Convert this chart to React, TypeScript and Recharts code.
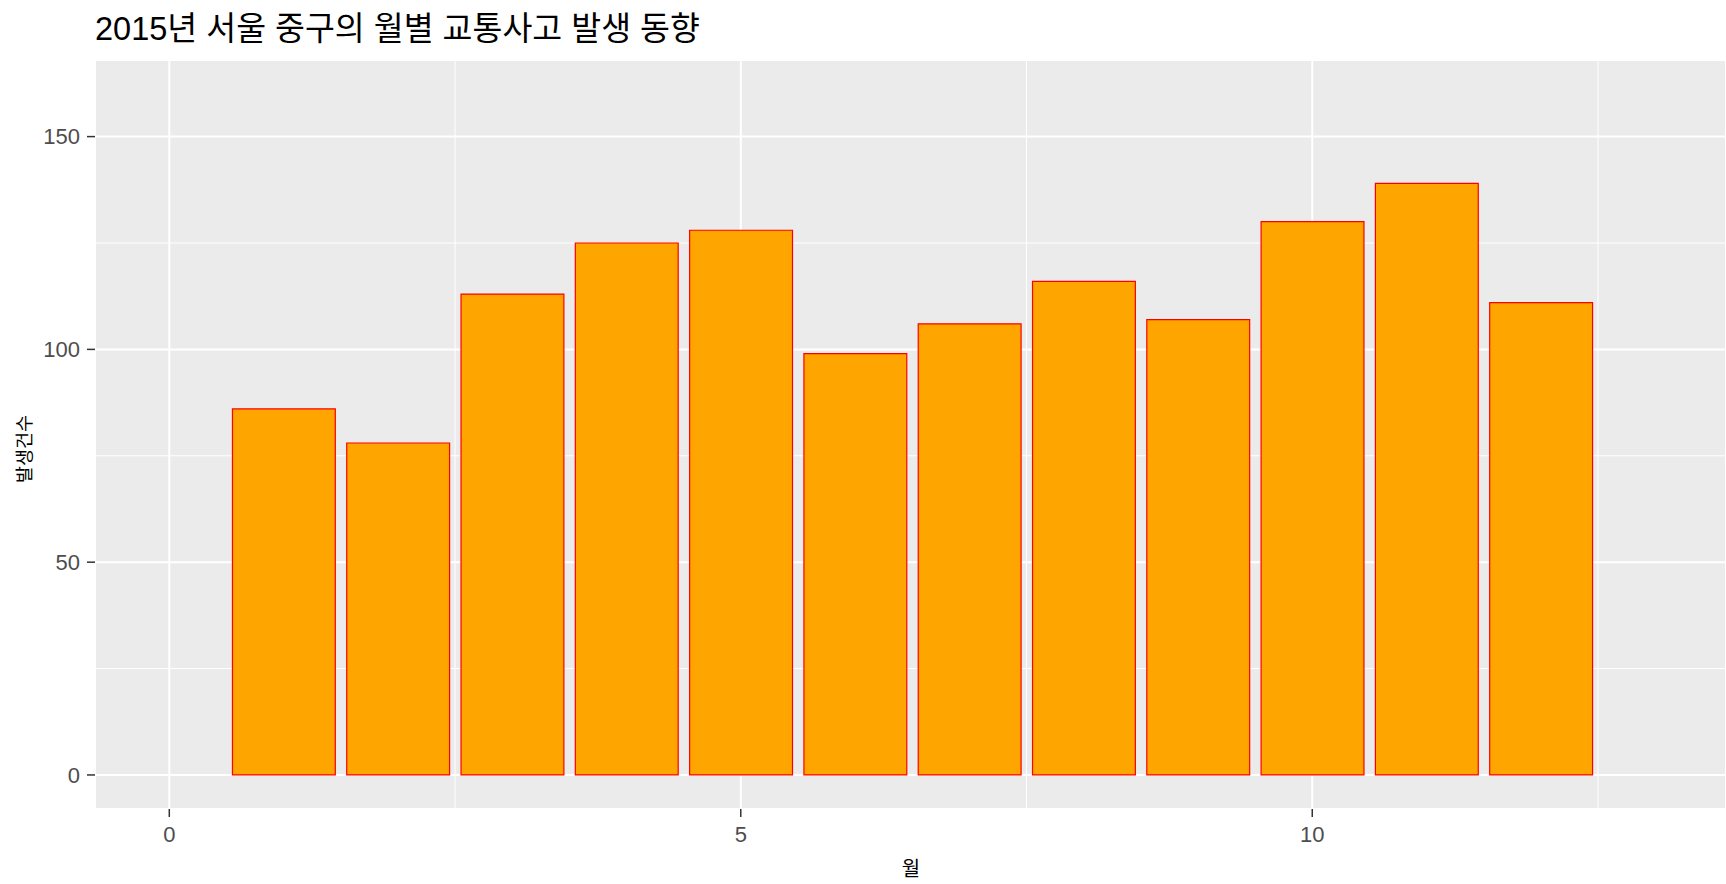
import React from "react";
import { BarChart, Bar, XAxis, YAxis, CartesianGrid } from "recharts";

const months = [1, 2, 3, 4, 5, 6, 7, 8, 9, 10, 11, 12];
const accidents = [86, 78, 113, 125, 128, 99, 106, 116, 107, 130, 139, 111];
const xTicks = [0, 5, 10];
const xMinorTicks = [2.5, 7.5, 12.5];
const yTicks = [0, 50, 100, 150];
const yMinorTicks = [25, 75, 125];

const W = 1726;
const H = 884;
const LEFT = 95;
const TOP = 60;
const BOTTOM = 75;
const X_DOMAIN: [number, number] = [-0.65, 13.62];
const Y_DOMAIN: [number, number] = [-8, 168];
// ggplot bar width 0.9 units
const BAR_SIZE = ((W - LEFT) / (X_DOMAIN[1] - X_DOMAIN[0])) * 0.9;

const data = months.map((m, i) => ({ month: m, count: accidents[i] }));

const tickStyle = { fill: "#4D4D4D", fontSize: 22, fontFamily: "'Liberation Sans', Arial, sans-serif" };
const textFont = "'Liberation Sans', 'Noto Sans CJK KR', sans-serif";

const App: React.FC = () => {
  return (
    <div style={{ position: "absolute", left: 0, top: 0, width: W, height: H, background: "#fff" }}>
      <BarChart width={W} height={H} data={data} margin={{ top: TOP, right: 0, bottom: 0, left: 0 }}>
        <CartesianGrid fill="#EBEBEB" stroke="#FFFFFF" strokeWidth={1} xAxisId="minor" yAxisId="minor" />
        <CartesianGrid stroke="#FFFFFF" strokeWidth={2} />
        <XAxis
          dataKey="month"
          type="number"
          domain={X_DOMAIN}
          allowDataOverflow
          ticks={xTicks}
          height={BOTTOM}
          axisLine={false}
          tickSize={8}
          tickMargin={9}
          tickLine={{ stroke: "#333333", strokeWidth: 1.5 }}
          tick={tickStyle}
        />
        <XAxis xAxisId="minor" dataKey="month" type="number" domain={X_DOMAIN} allowDataOverflow ticks={xMinorTicks} hide />
        <YAxis
          type="number"
          domain={Y_DOMAIN}
          allowDataOverflow
          ticks={yTicks}
          width={LEFT}
          axisLine={false}
          tickSize={8}
          tickMargin={7}
          tickLine={{ stroke: "#333333", strokeWidth: 1.5 }}
          tick={tickStyle}
        />
        <YAxis yAxisId="minor" type="number" domain={Y_DOMAIN} allowDataOverflow ticks={yMinorTicks} hide />
        <Bar dataKey="count" fill="#FFA500" stroke="#FF0000" strokeWidth={1.2} barSize={BAR_SIZE} isAnimationActive={false} />
      </BarChart>
      <svg width={W} height={H} style={{ position: "absolute", left: 0, top: 0, pointerEvents: "none" }}>
        <text x={95} y={39.5} fontSize={32.5} fontFamily={textFont} fill="#000000">
          2015년 서울 중구의 월별 교통사고 발생 동향
        </text>
        <text
          x={0}
          y={0}
          transform="translate(31, 449) rotate(-90)"
          textAnchor="middle"
          fontSize={18.5}
          fontFamily={textFont}
          fill="#000000"
        >
          발생건수
        </text>
        <text x={911} y={876} textAnchor="middle" fontSize={20} fontFamily={textFont} fill="#000000">
          월
        </text>
      </svg>
    </div>
  );
};

export default App;
